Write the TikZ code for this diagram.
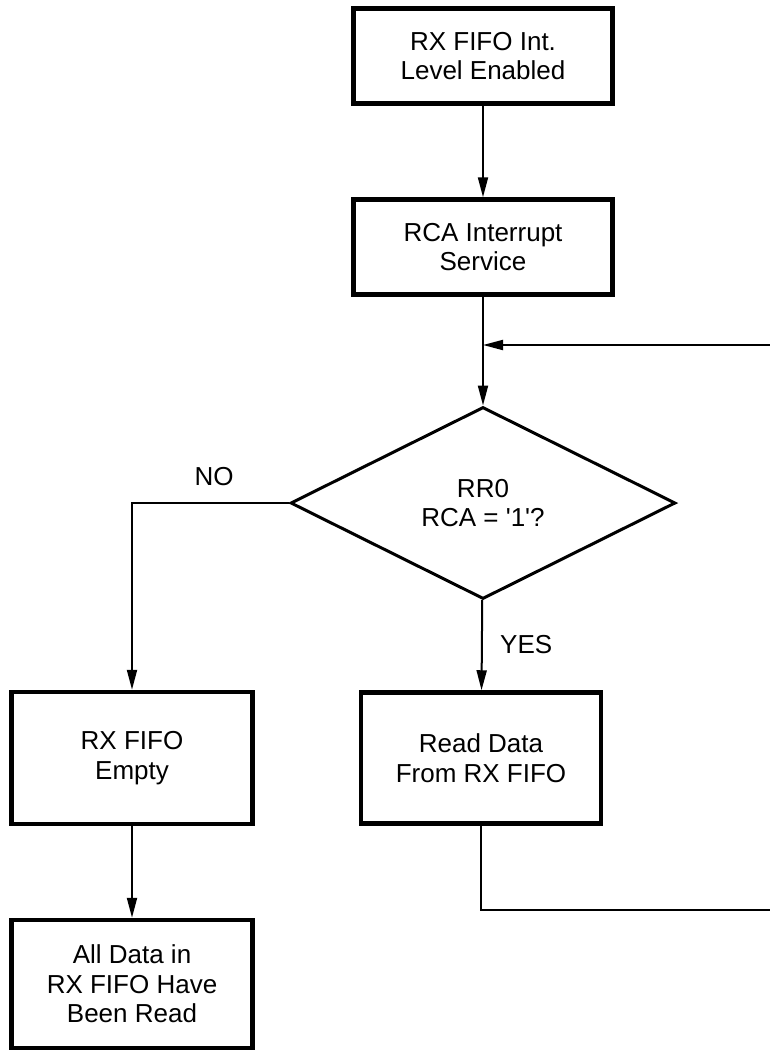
\documentclass[tikz,border=0pt]{standalone}
\usepackage{fontspec}
\setmainfont{Liberation Sans}
\usetikzlibrary{arrows.meta, positioning, shapes.geometric}

\begin{document}
\begin{tikzpicture}[x=1pt, y=-1pt,
			block/.style={rectangle, draw, line width=4.5pt, minimum width=259pt, minimum height=95pt, inner sep=0pt, align=center, font=\fontsize{26}{29.5}\selectfont},
			decision/.style={diamond, draw, line width=3pt, aspect=2, minimum width=385pt, minimum height=192pt, inner sep=0pt, align=center, font=\fontsize{26}{29.5}\selectfont},
			answer/.style={font=\fontsize{26}{29.5}\selectfont, inner sep=0pt},
			arrow/.style={-{Triangle[length=20pt, width=10pt]}, line width=2pt},
			flow/.style={line width=2pt},
			]
			\useasboundingbox (0,0) rectangle (769,1053);
			
			% ---- main column ----
			\node[block] (enable) at (483,56) {RX FIFO Int.\\Level Enabled};
			\node[block] (service) at (483,247) {RCA Interrupt\\Service};
			\node[decision] (test) at (483,503) {RR0\\RCA = \textquotesingle 1\textquotesingle ?};
			\node[block, minimum width=240pt, minimum height=131pt] (read) at (481,758) {Read Data\\From RX FIFO};
			
			% ---- left column ----
			\node[block, minimum width=241pt, minimum height=132pt] (empty) at (132,758) {RX FIFO\\Empty};
			\node[block, minimum width=241pt, minimum height=128pt] (done) at (132,984) {All Data in\\RX FIFO Have\\Been Read};
			
			% ---- branch labels ----
			\node[answer] (no) at (214,477) {NO};
			\node[answer, anchor=west] (yes) at (500,645) {YES};
			
			% ---- loop back points (right side runs off the page) ----
			\coordinate (join) at (483,345);
			\coordinate (rtop) at (775,345);
			\coordinate (rbot) at (775,910);
			
			\draw[arrow] (enable) -- (service);
			\draw[arrow] (service) -- (test);
			\draw[arrow] (test.west) -| (empty.north);
			\draw[arrow] (test) -- (read);
			\draw[arrow] (empty) -- (done);
			% Loop back to the test
			\draw[arrow] (read.south) |- (rbot) -- (rtop) -- (join);
			
		\end{tikzpicture}
\end{document}
